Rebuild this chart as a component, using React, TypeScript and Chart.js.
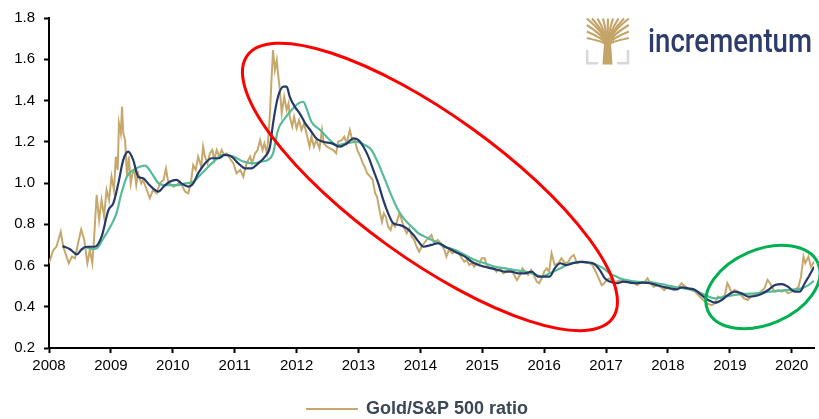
import React, { useEffect, useRef } from "react";
import { Chart, registerables } from "chart.js";

Chart.register(...registerables);

const FONT = '"Liberation Sans", Arial, Helvetica, sans-serif';
const GOLD = "#C6A86C";
const NAVY = "#263A6A";
const GREEN = "#55BB98";
const LEGEND_TEXT = "#3B4656";

const SERIES_GOLD = "Gold/S&P 500 ratio";
const SERIES_SHORT = "Short moving average";
const SERIES_LONG = "Long moving average";

const xTickYears = [2008, 2009, 2010, 2011, 2012, 2013, 2014, 2015, 2016, 2017, 2018, 2019, 2020];
const yTickValues = [0.2, 0.4, 0.6, 0.8, 1.0, 1.2, 1.4, 1.6, 1.8];
const X_MIN = 2008;
const X_MAX = 2020.36;

const goldYears = [
  2008.00, 2008.07, 2008.12, 2008.19, 2008.23, 2008.32, 2008.37, 2008.42, 2008.47, 2008.52,
  2008.57, 2008.62, 2008.66, 2008.70, 2008.73, 2008.77, 2008.81, 2008.85, 2008.89, 2008.93,
  2008.97, 2009.01, 2009.05, 2009.08, 2009.11, 2009.13, 2009.16, 2009.18, 2009.20, 2009.23,
  2009.26, 2009.29, 2009.32, 2009.35, 2009.38, 2009.41, 2009.44, 2009.49, 2009.52, 2009.58,
  2009.63, 2009.68, 2009.74, 2009.79, 2009.85, 2009.89, 2009.92, 2009.95, 2010.01, 2010.06,
  2010.12, 2010.20, 2010.25, 2010.29, 2010.33, 2010.37, 2010.41, 2010.46, 2010.49, 2010.52,
  2010.56, 2010.60, 2010.64, 2010.67, 2010.71, 2010.75, 2010.79, 2010.83, 2010.87, 2010.92,
  2010.98, 2011.03, 2011.09, 2011.14, 2011.19, 2011.25, 2011.28, 2011.33, 2011.37, 2011.41,
  2011.45, 2011.48, 2011.52, 2011.54, 2011.57, 2011.60, 2011.62, 2011.65, 2011.68, 2011.70,
  2011.73, 2011.76, 2011.80, 2011.84, 2011.87, 2011.89, 2011.93, 2011.96, 2012.00, 2012.04,
  2012.08, 2012.12, 2012.16, 2012.21, 2012.24, 2012.28, 2012.32, 2012.37, 2012.41, 2012.44,
  2012.49, 2012.54, 2012.59, 2012.64, 2012.67, 2012.73, 2012.77, 2012.81, 2012.86, 2012.90,
  2012.94, 2012.98, 2013.02, 2013.07, 2013.10, 2013.14, 2013.19, 2013.23, 2013.27, 2013.30,
  2013.35, 2013.38, 2013.41, 2013.44, 2013.48, 2013.52, 2013.55, 2013.59, 2013.63, 2013.66,
  2013.70, 2013.73, 2013.78, 2013.82, 2013.86, 2013.90, 2013.94, 2013.98, 2014.02, 2014.06,
  2014.10, 2014.13, 2014.18, 2014.22, 2014.28, 2014.33, 2014.39, 2014.42, 2014.46, 2014.52,
  2014.57, 2014.61, 2014.67, 2014.71, 2014.75, 2014.79, 2014.83, 2014.87, 2014.91, 2014.95,
  2014.99, 2015.04, 2015.07, 2015.12, 2015.18, 2015.23, 2015.29, 2015.34, 2015.39, 2015.45,
  2015.50, 2015.56, 2015.61, 2015.65, 2015.69, 2015.74, 2015.79, 2015.82, 2015.88, 2015.92,
  2015.96, 2016.00, 2016.04, 2016.08, 2016.12, 2016.17, 2016.23, 2016.28, 2016.34, 2016.39,
  2016.44, 2016.48, 2016.53, 2016.58, 2016.63, 2016.69, 2016.74, 2016.78, 2016.82, 2016.87,
  2016.93, 2016.97, 2017.01, 2017.06, 2017.12, 2017.17, 2017.24, 2017.29, 2017.34, 2017.40,
  2017.45, 2017.50, 2017.56, 2017.61, 2017.67, 2017.72, 2017.77, 2017.83, 2017.88, 2017.94,
  2017.99, 2018.04, 2018.10, 2018.15, 2018.22, 2018.26, 2018.32, 2018.38, 2018.44, 2018.49,
  2018.54, 2018.60, 2018.65, 2018.71, 2018.76, 2018.81, 2018.87, 2018.92, 2018.96, 2018.99,
  2019.03, 2019.07, 2019.13, 2019.18, 2019.23, 2019.29, 2019.34, 2019.39, 2019.45, 2019.50,
  2019.56, 2019.61, 2019.65, 2019.69, 2019.73, 2019.78, 2019.84, 2019.89, 2019.94, 2020.00,
  2020.05, 2020.11, 2020.15, 2020.19, 2020.22, 2020.27, 2020.31, 2020.36,
];

const goldValues = [
  0.611, 0.675, 0.691, 0.764, 0.691, 0.611, 0.643, 0.635, 0.708, 0.775,
  0.724, 0.611, 0.675, 0.611, 0.740, 0.942, 0.821, 0.918, 0.837, 0.966,
  0.918, 1.031, 0.966, 1.128, 1.063, 1.289, 1.241, 1.370, 1.241, 1.208,
  1.031, 1.128, 0.998, 1.047, 1.063, 0.990, 1.047, 0.998, 1.015, 0.966,
  0.926, 0.966, 0.950, 0.998, 1.015, 1.071, 1.015, 0.998, 0.982, 0.990,
  1.006, 0.958, 0.950, 0.998, 1.087, 1.063, 1.128, 1.079, 1.176, 1.128,
  1.095, 1.144, 1.160, 1.112, 1.160, 1.128, 1.160, 1.136, 1.144, 1.120,
  1.095, 1.047, 1.063, 1.031, 1.095, 1.128, 1.095, 1.144, 1.160, 1.208,
  1.160, 1.192, 1.144, 1.208, 1.338, 1.532, 1.645, 1.548, 1.596, 1.532,
  1.451, 1.338, 1.418, 1.354, 1.386, 1.321, 1.273, 1.321, 1.265, 1.305,
  1.257, 1.289, 1.241, 1.176, 1.225, 1.176, 1.208, 1.168, 1.257, 1.192,
  1.176, 1.168, 1.160, 1.144, 1.200, 1.208, 1.225, 1.192, 1.257, 1.208,
  1.208, 1.160, 1.136, 1.095, 1.079, 1.047, 1.031, 1.015, 0.950, 0.934,
  0.853, 0.812, 0.853, 0.837, 0.788, 0.772, 0.805, 0.788, 0.821, 0.853,
  0.821, 0.788, 0.756, 0.780, 0.740, 0.724, 0.691, 0.667, 0.691, 0.708,
  0.724, 0.732, 0.748, 0.708, 0.724, 0.708, 0.675, 0.643, 0.675, 0.659,
  0.675, 0.667, 0.635, 0.618, 0.627, 0.602, 0.611, 0.594, 0.611, 0.602,
  0.635, 0.635, 0.602, 0.586, 0.594, 0.570, 0.586, 0.562, 0.570, 0.578,
  0.562, 0.530, 0.554, 0.586, 0.570, 0.554, 0.578, 0.562, 0.522, 0.514,
  0.538, 0.570, 0.586, 0.570, 0.659, 0.602, 0.611, 0.635, 0.611, 0.618,
  0.643, 0.651, 0.611, 0.618, 0.618, 0.618, 0.611, 0.602, 0.578, 0.546,
  0.505, 0.514, 0.530, 0.538, 0.514, 0.522, 0.530, 0.522, 0.530, 0.514,
  0.522, 0.505, 0.517, 0.514, 0.538, 0.514, 0.497, 0.505, 0.497, 0.481,
  0.497, 0.489, 0.481, 0.489, 0.514, 0.501, 0.489, 0.481, 0.473, 0.457,
  0.441, 0.424, 0.413, 0.408, 0.417, 0.449, 0.441, 0.457, 0.514, 0.497,
  0.465, 0.481, 0.473, 0.457, 0.441, 0.433, 0.449, 0.457, 0.462, 0.473,
  0.489, 0.530, 0.514, 0.489, 0.473, 0.481, 0.473, 0.481, 0.465, 0.473,
  0.481, 0.497, 0.546, 0.643, 0.611, 0.643, 0.594, 0.618,
];

const shortMaYears = [
  2008.22, 2008.34, 2008.45, 2008.53, 2008.61, 2008.74, 2008.85, 2008.96,
  2009.04, 2009.12, 2009.20, 2009.28, 2009.36, 2009.44, 2009.52, 2009.60, 2009.68, 2009.77, 2009.85, 2009.95,
  2010.06, 2010.14, 2010.25, 2010.33, 2010.41, 2010.52, 2010.63, 2010.74, 2010.84, 2010.95,
  2011.06, 2011.17, 2011.27, 2011.38, 2011.49, 2011.57, 2011.62, 2011.70, 2011.79, 2011.84, 2011.89, 2011.97,
  2012.05, 2012.14, 2012.22, 2012.32, 2012.43, 2012.57, 2012.70, 2012.81, 2012.92,
  2013.00, 2013.08, 2013.16, 2013.24, 2013.32, 2013.40, 2013.48, 2013.56, 2013.67, 2013.78, 2013.89, 2013.97,
  2014.05, 2014.18, 2014.29, 2014.40, 2014.51, 2014.61, 2014.72, 2014.83, 2014.94,
  2015.04, 2015.15, 2015.26, 2015.37, 2015.47, 2015.58, 2015.69, 2015.80, 2015.90,
  2016.00, 2016.09, 2016.17, 2016.26, 2016.36, 2016.47, 2016.58, 2016.69, 2016.79, 2016.90, 2016.98,
  2017.06, 2017.17, 2017.28, 2017.39, 2017.49, 2017.60, 2017.71, 2017.82, 2017.92,
  2018.03, 2018.14, 2018.22, 2018.33, 2018.44, 2018.54, 2018.65, 2018.76, 2018.87, 2018.97,
  2019.08, 2019.19, 2019.30, 2019.41, 2019.51, 2019.62, 2019.73, 2019.84, 2019.94,
  2020.05, 2020.13, 2020.21, 2020.29, 2020.36,
];

const shortMaValues = [
  0.694, 0.679, 0.654, 0.679, 0.691, 0.691, 0.740, 0.869,
  0.902, 0.998, 1.112, 1.152, 1.112, 1.031, 1.023, 0.998, 0.974, 0.958, 0.982, 1.006,
  1.015, 0.998, 0.982, 0.998, 1.047, 1.095, 1.120, 1.120, 1.136, 1.128,
  1.095, 1.071, 1.071, 1.095, 1.128, 1.176, 1.289, 1.418, 1.467, 1.467, 1.418, 1.370,
  1.338, 1.289, 1.257, 1.216, 1.200, 1.192, 1.176, 1.192, 1.216,
  1.208, 1.176, 1.128, 1.063, 0.998, 0.918, 0.853, 0.805, 0.796, 0.780, 0.748, 0.716,
  0.691, 0.700, 0.708, 0.691, 0.675, 0.659, 0.643, 0.618, 0.602,
  0.594, 0.586, 0.578, 0.570, 0.570, 0.562, 0.562, 0.570, 0.546,
  0.546, 0.546, 0.586, 0.611, 0.602, 0.611, 0.618, 0.615, 0.611, 0.578, 0.538,
  0.522, 0.514, 0.522, 0.517, 0.514, 0.517, 0.514, 0.505, 0.497,
  0.489, 0.484, 0.494, 0.489, 0.481, 0.457, 0.433, 0.420, 0.433, 0.457,
  0.473, 0.465, 0.449, 0.452, 0.462, 0.481, 0.505, 0.510, 0.497,
  0.473, 0.473, 0.514, 0.554, 0.594,
];

const longMaYears = [
  2008.53, 2008.58, 2008.69, 2008.77, 2008.88, 2008.99,
  2009.09, 2009.17, 2009.26, 2009.36, 2009.47, 2009.55, 2009.66, 2009.77, 2009.87, 2009.98,
  2010.09, 2010.20, 2010.33, 2010.47, 2010.63, 2010.82, 2010.98,
  2011.14, 2011.30, 2011.44, 2011.54, 2011.62, 2011.70, 2011.81, 2011.92,
  2012.03, 2012.11, 2012.16, 2012.24, 2012.38, 2012.51, 2012.65, 2012.81, 2012.97,
  2013.10, 2013.21, 2013.32, 2013.43, 2013.54, 2013.64, 2013.75, 2013.86, 2013.97,
  2014.07, 2014.24, 2014.40, 2014.56, 2014.72, 2014.88,
  2015.04, 2015.21, 2015.37, 2015.53, 2015.69, 2015.85, 2015.96,
  2016.09, 2016.20, 2016.31, 2016.42, 2016.53, 2016.63, 2016.74, 2016.85, 2016.96,
  2017.06, 2017.17, 2017.28, 2017.39, 2017.49, 2017.60, 2017.71, 2017.82, 2017.92,
  2018.03, 2018.14, 2018.27, 2018.44, 2018.60, 2018.76, 2018.92,
  2019.08, 2019.24, 2019.41, 2019.57, 2019.73, 2019.89,
  2020.05, 2020.16, 2020.27, 2020.36,
];

const longMaValues = [
  0.675, 0.691, 0.679, 0.683, 0.732, 0.788,
  0.853, 0.950, 1.031, 1.063, 1.079, 1.084, 1.047, 0.998, 0.990, 0.990,
  0.990, 0.998, 1.006, 1.047, 1.095, 1.136, 1.128,
  1.104, 1.095, 1.104, 1.112, 1.144, 1.257, 1.313, 1.354,
  1.386, 1.394, 1.362, 1.297, 1.257, 1.216, 1.184, 1.192, 1.200,
  1.184, 1.160, 1.095, 1.015, 0.934, 0.869, 0.821, 0.788, 0.756,
  0.740, 0.716, 0.691, 0.675, 0.651, 0.627,
  0.611, 0.594, 0.586, 0.578, 0.570, 0.558, 0.546,
  0.562, 0.578, 0.594, 0.611, 0.615, 0.618, 0.611, 0.602, 0.586,
  0.562, 0.546, 0.533, 0.526, 0.522, 0.519, 0.519, 0.514, 0.509,
  0.501, 0.494, 0.489, 0.478, 0.457, 0.441, 0.449,
  0.457, 0.462, 0.465, 0.470, 0.476, 0.481,
  0.484, 0.489, 0.505, 0.526,
];

// Highlight ellipses: centre in data units, radii in pixels, rotation in degrees
const highlightEllipses = [
  { cx: 2014.155, cy: 0.981, rx: 225, ry: 72, rotationDeg: 35.7, color: "#FF0000" },
  { cx: 2019.535, cy: 0.496, rx: 60, ry: 37.4, rotationDeg: -23.2, color: "#00B050" },
];

const toPoints = (xs: number[], ys: number[]) => xs.map((x, i) => ({ x, y: ys[i] }));

const ellipsePlugin = {
  id: "highlightEllipses",
  afterDatasetsDraw(chart: any) {
    const { ctx, scales } = chart;
    ctx.save();
    for (const e of highlightEllipses) {
      ctx.beginPath();
      ctx.ellipse(
        scales.x.getPixelForValue(e.cx),
        scales.y.getPixelForValue(e.cy),
        e.rx,
        e.ry,
        (e.rotationDeg * Math.PI) / 180,
        0,
        Math.PI * 2
      );
      ctx.strokeStyle = e.color;
      ctx.lineWidth = 3;
      ctx.stroke();
    }
    ctx.restore();
  },
};

// Bottom legend (only the gold series is listed, as in the original)
const legendPlugin = {
  id: "bottomLegend",
  afterDraw(chart: any) {
    const ctx = chart.ctx as CanvasRenderingContext2D;
    const cy = chart.height - 10;
    const lineLeft = 306;
    const lineWidth = 52;
    ctx.save();
    ctx.fillStyle = GOLD;
    ctx.fillRect(lineLeft, cy - 1, lineWidth, 2);
    ctx.fillStyle = LEGEND_TEXT;
    ctx.font = `bold 18px ${FONT}`;
    ctx.textBaseline = "middle";
    ctx.textAlign = "left";
    ctx.fillText(SERIES_GOLD, lineLeft + lineWidth + 8, cy);
    ctx.restore();
  },
};

const logoPlugin = {
  id: "logo",
  afterDraw(chart: any) {
    const ctx = chart.ctx as CanvasRenderingContext2D;
    ctx.save();
    // grey corner brackets
    ctx.strokeStyle = "#D8D8D8";
    ctx.lineWidth = 2.5;
    ctx.beginPath();
    ctx.moveTo(587.2, 50);
    ctx.lineTo(587.2, 63.2);
    ctx.lineTo(598, 63.2);
    ctx.stroke();
    ctx.beginPath();
    ctx.moveTo(628, 50);
    ctx.lineTo(628, 63.2);
    ctx.lineTo(617, 63.2);
    ctx.stroke();
    // tree trunk
    const treeGold = "#C4A468";
    ctx.fillStyle = treeGold;
    ctx.beginPath();
    ctx.moveTo(602.5, 64.5);
    ctx.lineTo(612.5, 64.5);
    ctx.lineTo(611, 43);
    ctx.lineTo(604, 43);
    ctx.closePath();
    ctx.fill();
    // branches
    const bx = 607.5;
    const by = 45;
    const ends = [
      [586.8, 18.5], [592, 18.5], [597.5, 18.5], [603, 18.5], [608, 18.5], [613, 18.5],
      [618.5, 18.5], [624, 18.5], [628.8, 18.5], [586.8, 25], [586.8, 31.5], [586.8, 38],
      [628.8, 25], [628.8, 31.5], [628.8, 38],
    ];
    ctx.strokeStyle = treeGold;
    ctx.lineWidth = 2.2;
    for (const [ex, ey] of ends) {
      ctx.beginPath();
      ctx.moveTo(bx, by);
      ctx.quadraticCurveTo(bx + (ex - bx) * 0.15, ey + (by - ey) * 0.55, ex, ey);
      ctx.stroke();
    }
    // wordmark
    ctx.fillStyle = "#2D3C6A";
    ctx.font = "500 33px Roboto";
    ctx.textBaseline = "alphabetic";
    const text = "incrementum";
    const w = ctx.measureText(text).width;
    ctx.translate(648, 52);
    ctx.scale(164 / w, 1);
    ctx.fillText(text, 0, 0);
    ctx.restore();
  },
};

export default function App() {
  const canvasRef = useRef<HTMLCanvasElement | null>(null);

  useEffect(() => {
    const canvas = canvasRef.current;
    if (!canvas) return;
    Chart.defaults.font.family = FONT;

    const chart = new Chart(canvas, {
      type: "line",
      data: {
        datasets: [
          {
            label: SERIES_SHORT,
            data: toPoints(shortMaYears, shortMaValues),
            borderColor: NAVY,
            backgroundColor: NAVY,
            borderWidth: 2.2,
            pointRadius: 0,
            cubicInterpolationMode: "monotone",
            order: 0,
          },
          {
            label: SERIES_LONG,
            data: toPoints(longMaYears, longMaValues),
            borderColor: GREEN,
            backgroundColor: GREEN,
            borderWidth: 2.2,
            pointRadius: 0,
            cubicInterpolationMode: "monotone",
            order: 1,
          },
          {
            label: SERIES_GOLD,
            data: toPoints(goldYears, goldValues),
            borderColor: GOLD,
            backgroundColor: GOLD,
            borderWidth: 2,
            pointRadius: 0,
            tension: 0,
            order: 2,
          },
        ],
      } as any,
      options: {
        animation: false,
        responsive: false,
        maintainAspectRatio: false,
        layout: { padding: { top: 18, left: 4, right: 5, bottom: 20 } },
        plugins: {
          tooltip: { enabled: false },
          legend: { display: false },
        },
        scales: {
          x: {
            type: "linear",
            min: X_MIN,
            max: X_MAX,
            afterBuildTicks: (scale: any) => {
              scale.ticks = xTickYears.map((v) => ({ value: v }));
            },
            afterFit: (scale: any) => {
              scale.height = 51;
            },
            ticks: {
              autoSkip: false,
              maxRotation: 0,
              color: "#000",
              padding: 4,
              font: { family: FONT, size: 15 },
              callback: (v: any) => String(v),
            },
            grid: {
              display: true,
              drawOnChartArea: false,
              drawTicks: true,
              tickLength: 5,
              tickWidth: 2,
              tickColor: "#000",
            },
            border: { display: true, color: "#000", width: 2 },
          },
          y: {
            type: "linear",
            min: 0.2,
            max: 1.8,
            afterBuildTicks: (scale: any) => {
              scale.ticks = yTickValues.map((v) => ({ value: v }));
            },
            afterFit: (scale: any) => {
              scale.width = 45;
            },
            ticks: {
              color: "#000",
              padding: 9,
              font: { family: FONT, size: 15 },
              callback: (v: any) => Number(v).toFixed(1),
            },
            grid: {
              display: true,
              drawOnChartArea: false,
              drawTicks: true,
              tickLength: 5,
              tickWidth: 2,
              tickColor: "#000",
            },
            border: { display: true, color: "#000", width: 2 },
          },
        },
      } as any,
      plugins: [ellipsePlugin, legendPlugin, logoPlugin],
    });

    return () => chart.destroy();
  }, []);

  return (
    <div
      style={{
        position: "absolute",
        left: 0,
        top: 0,
        width: 819,
        height: 419,
        background: "#ffffff",
        overflow: "hidden",
      }}
    >
      <canvas ref={canvasRef} width={819} height={419} style={{ display: "block" }} />
    </div>
  );
}
